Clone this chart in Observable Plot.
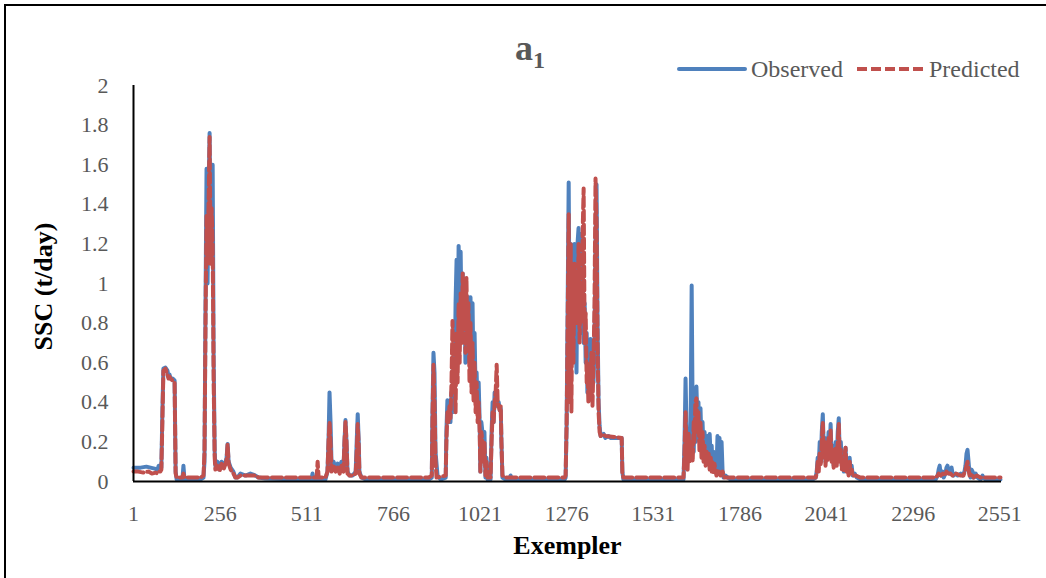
<!DOCTYPE html>
<html>
<head>
<meta charset="utf-8">
<script src="https://cdn.jsdelivr.net/npm/d3@7"></script>
<script src="https://cdn.jsdelivr.net/npm/@observablehq/plot@0.6"></script>
<style>
html,body{margin:0;padding:0;background:#fff;overflow:hidden;width:1046px;height:578px;}
#wrap{position:relative;width:1046px;height:578px;overflow:hidden;}
#chart{position:absolute;left:0;top:0;}
#frame{position:absolute;left:4px;top:4px;width:1200px;height:700px;border:2px solid #000;box-sizing:border-box;pointer-events:none;}
#title{position:absolute;left:0;width:1060px;top:30px;text-align:center;font-family:'Liberation Serif','Times New Roman',serif;font-weight:bold;font-size:36px;color:#595959;line-height:1;}
#title sub{font-size:24px;vertical-align:-8px;line-height:1;}
#legend{position:absolute;left:677px;top:55px;display:flex;align-items:center;font-family:'Liberation Serif','Times New Roman',serif;font-size:24px;color:#595959;line-height:28px;}
#legend svg{display:block;}
</style>
</head>
<body>
<div id="wrap">
  <div id="chart"></div>
  <div id="frame"></div>
  <div id="title">a<sub>1</sub></div>
  <div id="legend"></div>
</div>
<script>
// ---- data: [exemplar, SSC (t/day)] ----
const observedEarly = [[1,0.07],[22,0.07],[39,0.075],[51,0.07],[63,0.065],[72,0.06],[75,0.08],[80,0.08],[83,0.07],[86,0.35],[89,0.57],[95,0.575],[101,0.56],[104,0.53],[107,0.54],[110,0.52],[116,0.52],[122,0.51],[125,0.05],[128,0.01],[145,0.01],[148,0.08],[151,0.01],[198,0.01],[207,0.02],[210,0.1],[213,0.9],[216,1.58],[219,1.0],[222,1.45],[225,1.76],[228,1.2],[231,1.5],[234,1.6],[237,0.6],[240,0.15],[242,0.08],[248,0.1],[254,0.06],[260,0.1],[266,0.07],[272,0.1],[275,0.12],[278,0.19],[281,0.1],[287,0.07],[295,0.05],[301,0.02],[307,0.02],[316,0.04],[331,0.03],[345,0.04],[360,0.03],[369,0.02],[389,0.015],[493,0.01],[525,0.01],[528,0.04],[531,0.01],[566,0.01],[572,0.05],[575,0.2],[578,0.45],[581,0.3],[584,0.08],[590,0.1],[596,0.06],[602,0.09],[608,0.05],[613,0.1],[619,0.06],[622,0.2],[625,0.31],[628,0.2],[631,0.05],[637,0.03],[646,0.03],[655,0.05],[658,0.2],[661,0.34],[664,0.2],[666,0.05],[672,0.02],[684,0.01],[870,0.01]];
const observedB = [[879,0.02],[881,0.35],[884,0.65],[887,0.55],[890,0.15],[896,0.03],[905,0.01],[920,0.02],[922,0.25],[925,0.41],[928,0.3],[931,0.4],[934,0.3],[937,0.45],[940,0.35],[943,0.6],[946,0.4],[949,0.9],[952,1.12],[955,0.7],[958,1.19],[961,0.9],[964,1.16],[967,0.75],[970,1.05],[973,0.85],[975,0.98],[978,0.6],[981,0.92],[984,0.7],[987,0.93],[990,0.6],[993,0.93],[996,0.6],[999,0.9],[1002,0.5],[1005,0.75],[1008,0.45],[1011,0.55],[1014,0.35],[1017,0.5],[1020,0.3],[1022,0.05],[1025,0.3],[1028,0.25],[1031,0.15],[1034,0.25],[1037,0.02],[1040,0.12],[1043,0.01],[1052,0.01],[1055,0.25],[1058,0.4],[1061,0.3],[1064,0.45],[1067,0.4],[1070,0.42],[1073,0.38],[1076,0.4],[1079,0.36],[1082,0.37],[1084,0.2],[1087,0.02],[1096,0.01],[1108,0.01],[1111,0.03],[1114,0.01],[1270,0.01]];
const observedC = [[1273,0.02],[1276,0.3],[1279,0.9],[1282,1.51],[1285,0.7],[1288,1.2],[1290,0.6],[1293,1.1],[1296,0.8],[1299,1.2],[1302,0.9],[1305,0.55],[1308,1.2],[1311,1.28],[1314,0.9],[1317,1.25],[1320,0.75],[1323,1.1],[1326,0.7],[1329,0.9],[1332,0.6],[1335,0.75],[1337,0.45],[1340,0.65],[1343,0.5],[1346,0.72],[1349,0.45],[1352,0.65],[1355,0.5],[1358,0.7],[1361,1.2],[1364,1.5],[1367,0.8],[1370,0.4],[1373,0.28],[1376,0.23],[1385,0.24],[1390,0.22],[1399,0.23],[1405,0.22],[1420,0.22],[1438,0.22],[1440,0.05],[1443,0.01],[1620,0.01]];
const observedD = [[1623,0.2],[1626,0.52],[1629,0.25],[1632,0.1],[1635,0.2],[1638,0.12],[1641,0.3],[1644,0.99],[1647,0.3],[1650,0.15],[1652,0.3],[1655,0.2],[1658,0.48],[1661,0.3],[1664,0.4],[1667,0.2],[1670,0.37],[1673,0.18],[1676,0.3],[1679,0.15],[1682,0.25],[1685,0.12],[1688,0.2],[1691,0.23],[1694,0.1],[1697,0.24],[1700,0.12],[1703,0.18],[1705,0.08],[1708,0.15],[1711,0.05],[1714,0.1],[1717,0.04],[1720,0.23],[1723,0.05],[1726,0.22],[1729,0.04],[1732,0.2],[1735,0.05],[1738,0.02],[1744,0.03],[1750,0.02],[1759,0.01],[2000,0.01]];
const observedE = [[2009,0.02],[2012,0.05],[2015,0.12],[2018,0.08],[2021,0.2],[2024,0.1],[2027,0.25],[2030,0.34],[2033,0.15],[2036,0.22],[2038,0.1],[2041,0.2],[2044,0.12],[2047,0.25],[2050,0.15],[2053,0.29],[2056,0.12],[2059,0.18],[2062,0.08],[2065,0.15],[2068,0.2],[2071,0.1],[2074,0.25],[2077,0.32],[2080,0.12],[2083,0.2],[2086,0.08],[2089,0.15],[2092,0.05],[2094,0.12],[2097,0.17],[2100,0.06],[2103,0.1],[2106,0.04],[2109,0.12],[2112,0.05],[2115,0.08],[2118,0.03],[2124,0.04],[2130,0.02],[2141,0.01],[2362,0.01]];
const observedF = [[2368,0.03],[2371,0.06],[2374,0.08],[2377,0.04],[2380,0.03],[2383,0.05],[2386,0.02],[2391,0.04],[2394,0.07],[2397,0.08],[2400,0.05],[2403,0.04],[2406,0.06],[2409,0.07],[2412,0.04],[2415,0.03],[2421,0.04],[2427,0.03],[2436,0.04],[2442,0.03],[2447,0.05],[2450,0.08],[2453,0.14],[2456,0.16],[2459,0.1],[2462,0.04],[2465,0.02],[2468,0.06],[2471,0.05],[2474,0.02],[2480,0.04],[2486,0.02],[2494,0.01],[2500,0.03],[2503,0.02],[2509,0.01],[2553,0.01]];

const predictedEarly = [[1,0.05],[15,0.05],[30,0.045],[45,0.05],[55,0.04],[66,0.045],[72,0.04],[76,0.05],[80,0.05],[83,0.06],[86,0.3],[89,0.56],[95,0.57],[101,0.54],[104,0.52],[107,0.53],[110,0.52],[116,0.51],[122,0.5],[125,0.04],[128,0.02],[145,0.02],[148,0.04],[151,0.02],[198,0.02],[207,0.03],[210,0.15],[213,0.8],[216,1.35],[219,1.1],[222,1.4],[225,1.74],[228,1.1],[231,1.38],[234,1.2],[237,0.5],[240,0.12],[242,0.06],[248,0.08],[254,0.05],[260,0.09],[266,0.06],[272,0.09],[275,0.11],[278,0.19],[281,0.09],[287,0.06],[295,0.04],[301,0.02],[307,0.02],[316,0.03],[331,0.03],[345,0.03],[360,0.03],[369,0.02],[389,0.02],[493,0.02],[540,0.02],[543,0.1],[546,0.02],[566,0.02],[572,0.05],[575,0.2],[578,0.3],[581,0.2],[584,0.05],[590,0.08],[596,0.05],[602,0.07],[608,0.04],[613,0.08],[619,0.05],[622,0.2],[625,0.3],[628,0.2],[631,0.04],[637,0.03],[646,0.03],[655,0.04],[658,0.15],[661,0.29],[664,0.18],[666,0.04],[672,0.02],[870,0.02]];
const predictedB = [[879,0.03],[881,0.3],[884,0.59],[887,0.4],[890,0.1],[893,0.02],[920,0.03],[922,0.2],[925,0.35],[928,0.3],[931,0.38],[934,0.32],[937,0.5],[940,0.81],[943,0.45],[946,0.6],[949,0.35],[952,0.75],[955,0.5],[958,0.9],[961,0.6],[964,0.95],[967,0.7],[970,1.05],[973,0.8],[975,0.98],[978,0.65],[981,1.03],[984,0.7],[987,0.9],[990,0.5],[993,0.8],[996,0.45],[999,0.7],[1002,0.4],[1005,0.6],[1008,0.35],[1011,0.5],[1014,0.3],[1017,0.4],[1020,0.25],[1022,0.05],[1025,0.25],[1028,0.2],[1031,0.1],[1034,0.2],[1037,0.03],[1040,0.1],[1043,0.02],[1052,0.02],[1055,0.2],[1058,0.35],[1061,0.3],[1064,0.4],[1067,0.45],[1070,0.59],[1073,0.4],[1076,0.38],[1079,0.36],[1082,0.38],[1084,0.2],[1087,0.03],[1096,0.02],[1270,0.02]];
const predictedC = [[1273,0.03],[1276,0.3],[1279,0.8],[1282,1.35],[1285,0.4],[1288,1.2],[1290,0.35],[1293,1.05],[1296,0.6],[1299,1.1],[1302,0.8],[1305,1.0],[1308,0.8],[1311,1.2],[1314,0.7],[1317,1.0],[1320,0.8],[1323,1.25],[1326,1.48],[1329,0.7],[1332,0.85],[1335,0.5],[1337,0.6],[1340,0.4],[1343,0.55],[1346,0.45],[1349,0.65],[1352,0.38],[1355,0.6],[1358,0.9],[1361,1.53],[1364,1.3],[1367,0.7],[1370,0.35],[1373,0.25],[1376,0.23],[1382,0.24],[1390,0.23],[1438,0.22],[1440,0.04],[1443,0.02],[1620,0.02]];
const predictedD = [[1623,0.15],[1626,0.35],[1629,0.12],[1632,0.06],[1635,0.25],[1638,0.1],[1641,0.2],[1644,0.18],[1647,0.1],[1650,0.3],[1652,0.2],[1655,0.4],[1658,0.42],[1661,0.25],[1664,0.35],[1667,0.15],[1670,0.3],[1673,0.12],[1676,0.25],[1679,0.1],[1682,0.18],[1685,0.08],[1688,0.15],[1691,0.1],[1694,0.14],[1697,0.06],[1700,0.12],[1703,0.05],[1705,0.1],[1708,0.04],[1711,0.09],[1717,0.03],[1723,0.06],[1729,0.03],[1735,0.05],[1741,0.02],[2009,0.02]];
const predictedE = [[2012,0.04],[2015,0.1],[2018,0.05],[2021,0.15],[2024,0.08],[2027,0.2],[2030,0.3],[2033,0.12],[2036,0.2],[2038,0.08],[2041,0.18],[2044,0.1],[2047,0.22],[2050,0.12],[2053,0.26],[2056,0.1],[2059,0.16],[2062,0.07],[2065,0.13],[2068,0.17],[2071,0.08],[2074,0.2],[2077,0.29],[2080,0.1],[2083,0.16],[2086,0.06],[2089,0.12],[2092,0.05],[2094,0.13],[2097,0.17],[2100,0.05],[2103,0.08],[2106,0.03],[2109,0.1],[2112,0.04],[2115,0.06],[2118,0.03],[2127,0.03],[2141,0.02],[2362,0.02]];
const predictedF = [[2368,0.03],[2371,0.04],[2377,0.03],[2383,0.04],[2389,0.03],[2394,0.05],[2400,0.04],[2406,0.04],[2412,0.03],[2421,0.04],[2436,0.03],[2444,0.03],[2450,0.06],[2456,0.1],[2459,0.06],[2462,0.03],[2468,0.04],[2474,0.02],[2483,0.03],[2494,0.02],[2509,0.02],[2524,0.02],[2553,0.02]];

const xTicks = [1,256,511,766,1021,1276,1531,1786,2041,2296,2551];
const xTickLabels = ["1","256","511","766","1021","1276","1531","1786","2041","2296","2551"];
const yTicks = [0,0.2,0.4,0.6,0.8,1,1.2,1.4,1.6,1.8,2];
const yTickLabels = ["0","0.2","0.4","0.6","0.8","1","1.2","1.4","1.6","1.8","2"];
const seriesNames = ["Observed","Predicted"];
const titleText = "a";
const titleSub = "1";
const xTitle = "Exempler";
const yTitle = "SSC (t/day)";

// ---- build ----
const toRows = arr => arr.map(([x, y]) => ({x, y}));
const observed = toRows([].concat(observedEarly, observedB, observedC, observedD, observedE, observedF));
const predicted = toRows([].concat(predictedEarly, predictedB, predictedC, predictedD, predictedE, predictedF));

const BLUE = "#4F81BD", RED = "#C0504D", GRAY = "#595959";
const FONT = "'Liberation Serif','Times New Roman',serif";

const chart = Plot.plot({
  width: 1046,
  height: 578,
  marginLeft: 133,
  marginRight: 45,
  marginTop: 85,
  marginBottom: 97,
  style: {fontFamily: FONT, background: "transparent", overflow: "visible"},
  x: {domain: [1, 2556]},
  y: {domain: [0, 2]},
  marks: [
    Plot.axisY({ticks: yTicks, tickFormat: d => yTickLabels[yTicks.indexOf(d)], tickSize: 0, tickPadding: 25, fontSize: 22, color: GRAY, label: null}),
    Plot.axisX({ticks: xTicks, tickFormat: d => xTickLabels[xTicks.indexOf(d)], tickSize: 0, tickPadding: 24, fontSize: 22, color: GRAY, label: null}),
    Plot.line(observed, {x: "x", y: "y", stroke: BLUE, strokeWidth: 4, strokeLinejoin: "round", strokeLinecap: "round"}),
    Plot.line(predicted, {x: "x", y: "y", stroke: RED, strokeWidth: 4, strokeDasharray: "10,4", strokeLinejoin: "round"}),
    Plot.ruleY([0], {stroke: "#000", strokeWidth: 2}),
    Plot.ruleX([1], {stroke: "#000", strokeWidth: 2}),
    Plot.text([xTitle], {frameAnchor: "bottom", textAnchor: "middle", dy: 72, fontSize: 26, fontWeight: "bold", fill: "#000"}),
    Plot.text([yTitle], {frameAnchor: "left", textAnchor: "middle", dx: -90, dy: 3, rotate: -90, fontSize: 26, fontWeight: "bold", fill: "#000"})
  ]
});
document.getElementById("chart").appendChild(chart);

document.getElementById("title").innerHTML = titleText + "<sub>" + titleSub + "</sub>";

// legend
const legend = document.getElementById("legend");
function swatch(color, dash, ml) {
  const ns = "http://www.w3.org/2000/svg";
  const s = document.createElementNS(ns, "svg");
  s.setAttribute("width", 70); s.setAttribute("height", 10);
  s.style.marginLeft = ml + "px";
  const l = document.createElementNS(ns, "line");
  l.setAttribute("x1", 2); l.setAttribute("x2", 68); l.setAttribute("y1", 5); l.setAttribute("y2", 5);
  l.setAttribute("stroke", color); l.setAttribute("stroke-width", 4);
  if (dash) l.setAttribute("stroke-dasharray", dash); else l.setAttribute("stroke-linecap", "round");
  s.appendChild(l);
  return s;
}
function label(t, ml) { const sp = document.createElement("span"); sp.textContent = t; sp.style.marginLeft = ml + "px"; return sp; }
legend.appendChild(swatch(BLUE, null, 0));
legend.appendChild(label(seriesNames[0], 4));
legend.appendChild(swatch(RED, "10,4", 12));
legend.appendChild(label(seriesNames[1], 4));
</script>
</body>
</html>
